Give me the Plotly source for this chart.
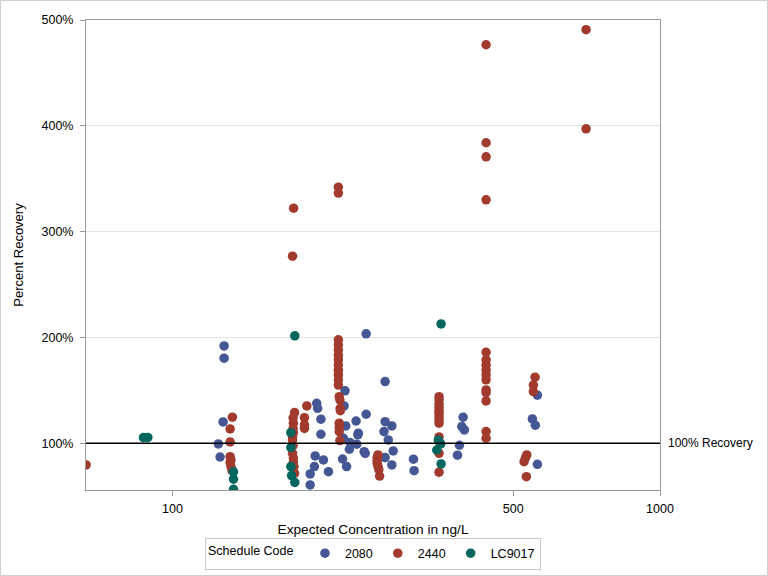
import plotly.graph_objects as go

# ---- data ----
blue_x = [127.6, 127.6, 127.0, 124.2, 125.2,
          197.6, 198.5, 201.6, 201.6, 196.2, 195.5, 204.0, 208.9, 191.6, 191.6,
          225.9, 224.9, 226.7, 224.3, 231.4, 230.6, 238.8, 238.0, 240.5, 240.0,
          249.6, 249.6, 247.3, 248.5, 223.3, 227.6,
          273.0, 273.0, 281.8, 271.6, 277.1, 283.6, 273.0, 281.8, 312.1, 313.0,
          394.6, 392.2, 396.9, 387.8, 384.2,
          560.4, 547.3, 555.0, 560.4]
blue_y = [192.0, 180.4, 120.1, 99.3, 87.0,
          137.8, 133.0, 122.7, 108.5, 88.0, 77.9, 84.2, 73.1, 71.0, 60.6,
          149.5, 135.3, 116.4, 104.7, 100.6, 94.3, 99.1, 121.0, 109.5, 108.0,
          127.4, 203.4, 92.0, 90.5, 85.1, 77.9,
          158.3, 120.4, 116.4, 111.0, 103.1, 92.7, 86.4, 79.5, 84.9, 74.1,
          124.6, 115.7, 112.6, 98.1, 88.7,
          145.4, 123.0, 117.0, 80.1]

red_x = [66.5,
         132.7, 131.3, 131.3, 131.3, 131.8, 131.3, 131.8, 132.5,
         178.0, 176.8, 177.0, 176.8, 177.0, 176.3, 176.3, 176.8, 176.3, 177.0, 177.0, 177.5, 178.0,
         176.3, 177.2,
         188.6, 186.5, 186.5, 186.5,
         218.9, 218.9, 218.9, 218.9, 218.9, 218.9, 218.9, 218.9, 218.9, 218.9, 218.9, 218.9,
         219.8, 220.5, 220.8, 221.0, 219.8, 219.8, 219.8, 220.5,
         264.0, 263.0, 263.0, 263.0, 264.0, 265.0, 266.0,
         352.2, 352.2, 352.2, 352.2, 352.2, 352.2, 352.2, 352.2, 352.2, 352.2, 352.2, 352.2, 352.2,
         439.8, 439.8, 439.8, 439.8, 439.8, 439.8, 439.8, 439.8, 439.8, 439.8, 439.8, 439.8, 439.8,
         439.8, 439.8,
         533.0, 530.0, 526.2, 532.0,
         554.3, 549.9, 549.9,
         705.3, 705.3]
red_y = [79.5,
         124.6, 113.5, 101.2, 87.3, 84.2, 81.7, 77.9, 74.1,
         129.0, 124.0, 119.0, 114.0, 110.0, 106.0, 103.0, 98.0, 90.5, 86.0, 82.0, 77.9, 71.6,
         276.8, 322.2,
         135.3, 124.2, 117.3, 114.0,
         342.0, 336.4, 197.7, 193.0, 188.0, 183.0, 178.8, 174.0, 169.0, 164.6, 159.9, 155.0,
         144.0, 141.0, 133.0, 130.8, 119.0, 115.0, 111.0, 102.5,
         88.9, 86.5, 84.0, 81.0, 78.0, 75.0, 69.0,
         144.0, 141.0, 137.0, 134.0, 131.0, 128.4, 125.0, 122.0, 119.0, 106.0, 101.5, 90.5, 72.6,
         476.6, 384.0, 370.7, 330.1, 186.0, 178.8, 174.0, 169.3, 164.6, 159.9, 150.4, 147.8, 140.0,
         111.0, 104.7,
         88.9, 86.5, 82.6, 68.4,
         162.4, 155.0, 148.8,
         490.8, 397.2]

green_x = [87.2, 89.0,
           133.4, 133.4, 133.4,
           174.9, 174.9, 174.9, 175.5, 178.2, 178.2,
           351.0, 355.0, 348.4, 355.6, 355.6]
green_y = [105.3, 105.5,
           73.0, 66.0, 56.5,
           110.0, 96.0, 77.9, 69.4, 63.0, 201.5,
           103.0, 99.3, 93.6, 80.4, 212.8]

series_names = ["2080", "2440", "LC9017"]
series_colors = ["#445694", "#A23A2E", "#01665E"]

x_ticks = [100, 500, 1000]
y_ticks = [100, 200, 300, 400, 500]
ref_value = 100
ref_label = "100% Recovery"

FONT = "Liberation Sans"

fig = go.Figure()
for name, color, xs, ys in zip(series_names, series_colors,
                               [blue_x, red_x, green_x], [blue_y, red_y, green_y]):
    fig.add_trace(go.Scatter(
        x=xs, y=ys, mode="markers", name=name,
        marker=dict(color=color, size=9.5, line=dict(width=0)),
    ))

fig.add_hline(y=ref_value, line=dict(color="black", width=1.5), layer="above")
fig.add_annotation(x=1, xref="paper", y=ref_value, yref="y", text=ref_label,
                   showarrow=False, xanchor="left", xshift=6,
                   font=dict(family=FONT, size=12, color="black"))

# outer frame around the whole image
fig.add_shape(type="rect", xref="paper", yref="paper",
              x0=(0.5 - 86) / 574, x1=(767.5 - 86) / 574,
              y0=(490 - 575.5) / 470, y1=(490 - 0.5) / 470,
              line=dict(color="#d0d0d0", width=1), fillcolor="rgba(0,0,0,0)", layer="below")

fig.update_layout(
    width=768, height=576, autosize=False,
    margin=dict(l=86, r=108, t=20, b=86),
    paper_bgcolor="white", plot_bgcolor="white",
    font=dict(family=FONT, size=12, color="black"),
    showlegend=True,
    legend=dict(orientation="h", x=0.5, xanchor="center",
                yref="container", y=1 - 553.5 / 576, yanchor="middle",
                title=dict(text="Schedule Code ", font=dict(family=FONT, size=12.5), side="left"),
                font=dict(family=FONT, size=12.5),
                bordercolor="#c8c8c8", borderwidth=1, bgcolor="white",
                itemwidth=30, tracegroupgap=0, valign="middle"),
)
fig.update_xaxes(type="log", range=[1.8226, 3.0], tickvals=x_ticks,
                 ticktext=[str(v) for v in x_ticks], automargin=False,
                 showgrid=False, zeroline=False,
                 showline=True, linecolor="#9a9a9a", linewidth=1, mirror=True,
                 ticks="outside", ticklen=5, tickcolor="#9a9a9a",
                 ticklabelstandoff=2,
                 tickfont=dict(family=FONT, size=12.5),
                 title=dict(text="Expected Concentration in ng/L",
                            font=dict(family=FONT, size=13.7), standoff=12))
fig.update_yaxes(range=[55.8, 500], tickvals=y_ticks,
                 ticktext=[f"{v}%" for v in y_ticks], automargin=False,
                 showgrid=True, gridcolor="#e4e4e4", gridwidth=1, zeroline=False,
                 showline=True, linecolor="#9a9a9a", linewidth=1, mirror=True,
                 ticks="outside", ticklen=5, tickcolor="#9a9a9a",
                 ticklabelstandoff=4,
                 tickfont=dict(family=FONT, size=12.5),
                 title=dict(text="Percent Recovery",
                            font=dict(family=FONT, size=13), standoff=14))

fig.write_html("out.html",
               config={"responsive": False, "displayModeBar": False},
               post_script="document.body.style.margin='0';document.body.style.overflow='hidden';")
